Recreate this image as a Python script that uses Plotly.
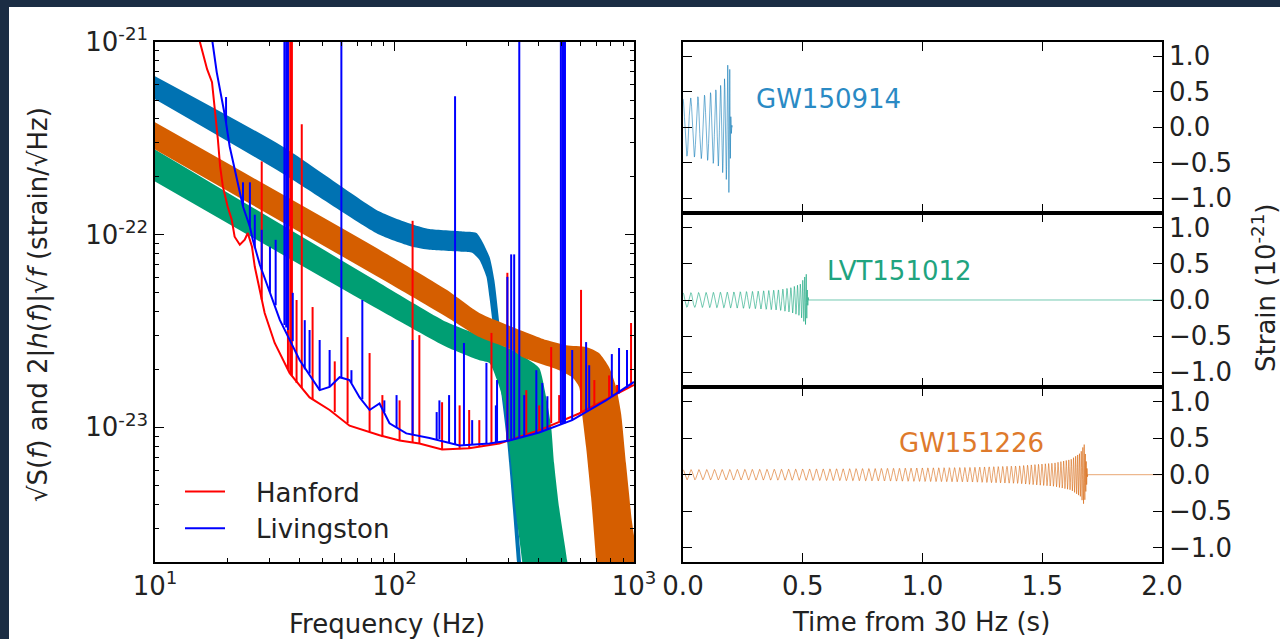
import numpy as np
import plotly.graph_objects as go

# ---------------- Left panel: detector noise (ASD) ----------------
hanford_freq = [15.1, 15.4, 16.5, 17.3, 18.3, 18.7, 19.2, 20.1, 20.9, 21.5, 22.6, 23.7, 24.4, 25.4,
                26.1, 27.4, 28.7, 31.6, 36.5, 44.2, 53.6, 64.9, 86.6, 105, 127, 158, 205, 274,
                402, 590, 787, 1000]
hanford_asd = [1.17e-21, 1.0e-21, 7.23e-22, 6.19e-22, 3.13e-22, 2.26e-22, 1.78e-22, 1.40e-22,
               1.20e-22, 9.76e-23, 8.87e-23, 9.42e-23, 1.02e-22, 8.66e-23, 6.81e-23, 5.17e-23,
               3.92e-23, 2.74e-23, 1.91e-23, 1.43e-23, 1.23e-23, 1.02e-23, 9.1e-24, 8.55e-24,
               8.25e-24, 7.68e-24, 7.78e-24, 8.25e-24, 9.65e-24, 1.18e-23, 1.42e-23, 1.66e-23]
hanford_line_freq = [27.9, 35.9, 36.7, 37.3, 39.0, 41.0, 45.5, 56.3, 63.7, 78.7, 89.0, 105,
                     119, 127, 158, 187, 205, 226, 254, 296, 355, 402, 451, 487, 601, 683, 787,
                     850, 972]
hanford_line_base = [4.6e-23, 2.0e-23, 1.9e-23, 1.85e-23, 1.7e-23, 1.6e-23, 1.4e-23, 1.2e-23,
                     1.05e-23, 9.5e-24, 8.9e-24, 8.55e-24, 8.3e-24, 8.25e-24, 7.7e-24, 7.7e-24,
                     7.78e-24, 7.9e-24, 8.2e-24, 8.6e-24, 9.3e-24, 9.65e-24, 1.05e-23, 1.08e-23,
                     1.19e-23, 1.3e-23, 1.42e-23, 1.5e-23, 1.63e-23]
hanford_line_peak = [2.4e-22, 2.5e-21, 2.5e-21, 2.5e-21, 4.58e-23, 3.74e-22, 4.21e-23, 2.2e-23,
                     2.94e-23, 2.43e-23, 1.47e-23, 1.38e-23, 1.18e-22, 3.01e-23, 1.35e-23,
                     1.3e-23, 1.23e-23, 1.09e-23, 3.09e-23, 6.34e-23, 1.56e-23, 1.3e-23,
                     2.61e-23, 1.47e-23, 5.17e-23, 1.76e-23, 1.86e-23, 1.66e-23, 3.48e-23]

livingston_freq = [16.9, 17.3, 18.1, 19.0, 19.6, 20.5, 21.1, 22.2, 23.3, 24.9, 25.6, 27.4, 29.3,
                   33.2, 40.2, 48.7, 53.6, 59.0, 64.9, 71.5, 78.7, 86.6, 95.3, 112, 140, 187,
                   249, 302, 402, 552, 764, 1000]
livingston_asd = [1.17e-21, 1.04e-21, 6.98e-22, 5.05e-22, 4.12e-22, 2.87e-22, 2.46e-22, 1.87e-22,
                  1.40e-22, 1.10e-22, 9.42e-23, 6.98e-23, 5.5e-23, 3.61e-23, 2.23e-23, 1.56e-23,
                  1.62e-23, 1.82e-23, 1.76e-23, 1.43e-23, 1.23e-23, 1.33e-23, 1.05e-23, 9.3e-24,
                  8.8e-24, 8.05e-24, 8.25e-24, 8.55e-24, 9.4e-24, 1.09e-23, 1.38e-23, 1.72e-23]
livingston_line_freq = [19.8, 23.3, 24.9, 26.1, 27.9, 30.2, 31.9, 34.7, 35.3, 35.9, 37.6, 42.2,
                        44.2, 48.7, 53.6, 60.0, 66.1, 73.4, 90.7, 102, 119, 150, 154, 169, 179,
                        195, 211, 242, 265, 268, 296, 307, 316, 331.9, 348, 391, 414, 435, 495,
                        503, 510, 515, 552, 631, 650, 808, 866, 935]
livingston_line_base = [3.8e-22, 1.4e-22, 1.1e-22, 8.5e-23, 6.6e-23, 5.0e-23, 4.3e-23, 3.4e-23,
                        3.3e-23, 3.2e-23, 2.8e-23, 2.0e-23, 1.9e-23, 1.56e-23, 1.62e-23, 1.8e-23,
                        1.7e-23, 1.4e-23, 1.2e-23, 1.0e-23, 9.1e-24, 8.6e-24, 8.7e-24, 8.3e-24,
                        8.1e-24, 8.05e-24, 8.1e-24, 8.2e-24, 8.3e-24, 8.4e-24, 8.5e-24, 8.55e-24,
                        8.6e-24, 8.8e-24, 9.0e-24, 9.3e-24, 9.5e-24, 9.8e-24, 1.03e-23, 1.04e-23,
                        1.05e-23, 1.05e-23, 1.09e-23, 1.22e-23, 1.25e-23, 1.45e-23, 1.5e-23,
                        1.6e-23]
livingston_line_peak = [5.18e-22, 1.87e-22, 1.87e-22, 1.27e-22, 1.06e-22, 8.66e-23, 9.4e-23,
                        2.5e-21, 2.5e-21, 2.5e-21, 4.99e-23, 3.6e-23, 3.2e-23, 2.84e-23,
                        2.52e-23, 2.5e-21, 1.98e-23, 4.58e-23, 1.38e-23, 1.47e-23, 2.84e-23,
                        1.2e-23, 1.38e-23, 1.47e-23, 5.23e-22, 2.74e-23, 1.09e-23, 2.16e-23,
                        1.3e-23, 1.76e-23, 6.04e-23, 7.9e-23, 7.9e-23, 2.5e-21, 1.47e-23,
                        1.98e-23, 1.70e-23, 1.45e-23, 2.5e-21, 2.5e-21, 2.5e-21, 2.5e-21,
                        2.52e-23, 2.77e-23, 2.1e-23, 2.4e-23, 2.58e-23, 2.52e-23]

# ---------------- Left panel: signal bands 2|h(f)|sqrt(f) ----------------
gw150914_up_freq = [10, 34.1, 86.6, 119, 140, 192, 220, 249, 261, 274, 307, 338, 345]
gw150914_up = [6.65e-22, 2.87e-22, 1.32e-22, 1.13e-22, 1.07e-22, 1.04e-22, 1.02e-22, 7.7e-23,
               5.83e-23, 3.48e-23, 8.25e-24, 1.98e-24, 1.42e-24]
gw150914_lo_freq = [10, 34.1, 86.6, 119, 140, 192, 211, 226, 242, 249, 256, 296, 325, 332]
gw150914_lo = [5.05e-22, 2.08e-22, 1.0e-22, 8.66e-23, 8.35e-23, 8.15e-23, 8.05e-23, 7.41e-23,
               6.04e-23, 4.75e-23, 3.61e-23, 8.25e-24, 1.98e-24, 1.42e-24]

lvt151012_up_freq = [10, 86.6, 165, 226, 310, 365, 402, 430, 451, 464, 487, 526, 546]
lvt151012_up = [2.77e-22, 5.62e-23, 3.52e-23, 3.01e-23, 2.52e-23, 2.23e-23, 2.03e-23, 1.43e-23,
                1.0e-23, 6.5e-24, 3.83e-24, 2.03e-24, 1.26e-24]
lvt151012_lo_freq = [10, 86.6, 165, 226, 249, 268, 287, 296, 307, 322, 341, 348]
lvt151012_lo = [1.89e-22, 4.06e-23, 2.61e-23, 2.23e-23, 2.16e-23, 1.76e-23, 1.33e-23, 9.65e-24,
                6.5e-24, 3.56e-24, 2.03e-24, 1.42e-24]

gw151226_up_freq = [10, 86.6, 165, 226, 310, 430, 521, 631, 714, 787, 842, 883, 926, 972, 1010]
gw151226_up = [3.83e-22, 8.35e-23, 5.17e-23, 3.92e-23, 3.32e-23, 2.84e-23, 2.67e-23, 2.61e-23,
               2.43e-23, 2.05e-23, 1.62e-23, 1.18e-23, 6.5e-24, 3.56e-24, 1.8e-24]
gw151226_lo_freq = [10, 86.6, 165, 226, 310, 341, 487, 552, 590, 607, 631, 662, 695, 708]
gw151226_lo = [2.77e-22, 5.97e-23, 3.74e-23, 2.94e-23, 2.52e-23, 2.32e-23, 1.98e-23, 1.82e-23,
               1.62e-23, 1.18e-23, 7.87e-24, 4.32e-24, 2.03e-24, 1.42e-24]

# ---------------- Right panels: waveform tracks (time, frequency, amplitude) ----------------
gw150914_t = [0.0, 0.05, 0.10, 0.15, 0.18, 0.19, 0.195, 0.200, 0.205]
gw150914_f = [30, 33.4, 38.9, 50.5, 71, 100, 150, 250, 250]
gw150914_a = [0.40, 0.42, 0.46, 0.55, 0.72, 0.95, 0.85, 0.15, 0.0]

lvt151012_t = [0.0, 0.10, 0.20, 0.30, 0.40, 0.45, 0.49, 0.505, 0.515, 0.52, 0.525, 2.0]
lvt151012_f = [30, 32.5, 36, 41.4, 52, 63.6, 87.6, 120, 180, 250, 250, 250]
lvt151012_a = [0.10, 0.105, 0.11, 0.12, 0.14, 0.17, 0.22, 0.30, 0.36, 0.10, 0.0, 0.0]

gw151226_t = [0.0, 0.4, 0.8, 1.2, 1.4, 1.55, 1.62, 1.66, 1.675, 1.685, 1.69, 2.0]
gw151226_f = [30, 33.2, 38.2, 47.7, 58, 76.4, 99, 136, 177, 300, 300, 300]
gw151226_a = [0.07, 0.075, 0.085, 0.10, 0.12, 0.16, 0.21, 0.30, 0.42, 0.15, 0.0, 0.0]

event_names = ["GW150914", "LVT151012", "GW151226"]

C_BLUE = "rgb(0,114,178)"
C_GREEN = "rgb(0,158,115)"
C_ORANGE = "rgb(213,94,0)"
FONT = "DejaVu Sans"
FS = 26
W, H = 1280, 639


def band(fu, vu, fl, vl, color):
    return go.Scatter(x=list(fu) + list(fl)[::-1], y=list(vu) + list(vl)[::-1],
                      fill="toself", fillcolor=color, mode="lines",
                      line=dict(width=0, color=color, shape="spline", smoothing=0.6),
                      showlegend=False, hoverinfo="skip", xaxis="x", yaxis="y")


def spikes(f, b, p):
    xs, ys = [], []
    for fi, bi, pi in zip(f, b, p):
        xs += [fi, fi, None]
        ys += [bi, pi, None]
    return xs, ys


def waveform(tk, fk, ak, dt=0.0002):
    t = np.arange(0.0, tk[-1] + dt / 2, dt)
    f = np.interp(t, tk, fk)
    a = np.interp(t, tk, ak)
    phase = 2 * np.pi * np.cumsum(f) * dt
    return t, a * np.cos(phase)


fig = go.Figure()

fig.add_trace(band(gw150914_up_freq, gw150914_up, gw150914_lo_freq, gw150914_lo, C_BLUE))
fig.add_trace(band(lvt151012_up_freq, lvt151012_up, lvt151012_lo_freq, lvt151012_lo, C_GREEN))
fig.add_trace(band(gw151226_up_freq, gw151226_up, gw151226_lo_freq, gw151226_lo, C_ORANGE))

fig.add_trace(go.Scatter(x=hanford_freq, y=hanford_asd, mode="lines", name="\u2003Hanford",
                         legendgroup="H", line=dict(color="#ff0000", width=2),
                         xaxis="x", yaxis="y"))
hx, hy = spikes(hanford_line_freq, hanford_line_base, hanford_line_peak)
fig.add_trace(go.Scatter(x=hx, y=hy, mode="lines", legendgroup="H", showlegend=False,
                         line=dict(color="#ff0000", width=2), xaxis="x", yaxis="y"))
fig.add_trace(go.Scatter(x=livingston_freq, y=livingston_asd, mode="lines",
                         name="\u2003Livingston", legendgroup="L",
                         line=dict(color="#0000ff", width=2), xaxis="x", yaxis="y"))
lx, ly = spikes(livingston_line_freq, livingston_line_base, livingston_line_peak)
fig.add_trace(go.Scatter(x=lx, y=ly, mode="lines", legendgroup="L", showlegend=False,
                         line=dict(color="#0000ff", width=2), xaxis="x", yaxis="y"))

wave_specs = [
    (gw150914_t, gw150914_f, gw150914_a, "rgba(0,114,178,0.55)", "x2", "y2"),
    (lvt151012_t, lvt151012_f, lvt151012_a, "rgba(0,158,115,0.55)", "x3", "y3"),
    (gw151226_t, gw151226_f, gw151226_a, "rgba(213,94,0,0.55)", "x4", "y4"),
]
for tk, fk, ak, col, xa, ya in wave_specs:
    t, h = waveform(tk, fk, ak)
    fig.add_trace(go.Scatter(x=t, y=h, mode="lines", line=dict(color=col, width=1),
                             showlegend=False, xaxis=xa, yaxis=ya, hoverinfo="skip"))

# ---------------- Layout ----------------
def px_x(x):
    return x / W


def px_y(y):
    return 1 - y / H


LW = 1.5
GAP = 0.4
left_dom_x = [px_x(155), px_x(634)]
left_dom_y = [px_y(562), px_y(42)]
right_dom_x = [px_x(683), px_x(1162)]
# (top, bottom) pixel rows of the three stacked panels
panel_rows = [(42, 213 - GAP), (213 + GAP, 387 - GAP), (387 + GAP, 562)]

axis_common = dict(showline=True, linecolor="black", linewidth=LW, mirror="ticks",
                   ticks="inside", tickcolor="black", showgrid=False, zeroline=False,
                   tickfont=dict(family=FONT, size=FS, color="#222"))

minor_x = [k * 10 ** e for e in (1, 2) for k in range(2, 10)]
minor_y = [k * 10 ** e for e in (-24, -23, -22) for k in range(2, 10)]

fig.update_layout(
    width=W, height=H, margin=dict(l=0, r=0, t=0, b=0, autoexpand=False),
    paper_bgcolor="white", plot_bgcolor="white",
    font=dict(family=FONT, size=FS, color="#222"),
    xaxis=dict(axis_common, type="log", range=[1, 3], domain=left_dom_x, anchor="y",
               tickmode="array", tickvals=[10, 100, 1000],
               ticktext=["10<sup>1</sup>", "10<sup>2</sup>", "10<sup>3</sup>"], ticklen=9,
               minor=dict(tickmode="array", tickvals=minor_x, ticks="inside", ticklen=4,
                          tickcolor="black", showgrid=False)),
    yaxis=dict(axis_common, type="log", range=[np.log10(2e-24), -21], domain=left_dom_y,
               anchor="x", tickmode="array", tickvals=[1e-23, 1e-22, 1e-21],
               ticktext=["10<sup>-23</sup>", "10<sup>-22</sup>", "10<sup>-21</sup>"], ticklen=9,
               minor=dict(tickmode="array", tickvals=minor_y, ticks="inside", ticklen=4,
                          tickcolor="black", showgrid=False)),
    legend=dict(x=px_x(180), y=px_y(468), xanchor="left", yanchor="top",
                bgcolor="rgba(0,0,0,0)", font=dict(family=FONT, size=FS, color="#222"),
                itemwidth=40, tracegroupgap=0),
)

for i, name in enumerate(["2", "3", "4"]):
    top, bot = panel_rows[i]
    fig.update_layout(**{
        f"xaxis{name}": dict(axis_common, range=[0, 2], domain=right_dom_x, anchor=f"y{name}",
                             tickmode="array", tickvals=[0, 0.5, 1.0, 1.5, 2.0],
                             tickformat=".1f", ticklen=9,
                             showticklabels=(name == "4"), matches="x4" if name != "4" else None),
        f"yaxis{name}": dict(axis_common, range=[-1.2, 1.2], domain=[px_y(bot), px_y(top)],
                             anchor=f"x{name}", side="right", tickmode="array",
                             tickvals=[-1, -0.5, 0, 0.5, 1], tickformat=".1f", ticklen=9),
    })

annotations = [
    dict(text="Frequency (Hz)", x=px_x(387), y=px_y(624), showarrow=False,
         font=dict(size=FS), xanchor="center", yanchor="middle"),
    dict(text="Time from 30 Hz (s)", x=px_x(921), y=px_y(622), showarrow=False,
         font=dict(size=FS), xanchor="center", yanchor="middle"),
    dict(text="√S(<i>f</i>) and 2|<i>h</i>(<i>f</i>)|√<i>f</i> (strain/√Hz)",
         x=px_x(38), y=px_y(305), textangle=-90, showarrow=False, font=dict(size=FS),
         xanchor="center", yanchor="middle"),
    dict(text="Strain (10<sup>-21</sup>)", x=px_x(1264), y=px_y(288), textangle=-90,
         showarrow=False, font=dict(size=FS), xanchor="center", yanchor="middle"),
    dict(text=event_names[0], x=px_x(754), y=px_y(99), showarrow=False, xanchor="left",
         yanchor="middle", font=dict(size=FS, color="#2a8ac4")),
    dict(text=event_names[1], x=px_x(825), y=px_y(271), showarrow=False, xanchor="left",
         yanchor="middle", font=dict(size=FS, color="#1fa47f")),
    dict(text=event_names[2], x=px_x(897), y=px_y(443), showarrow=False, xanchor="left",
         yanchor="middle", font=dict(size=FS, color="#de7a2c")),
]
for a in annotations:
    a.update(xref="paper", yref="paper")
fig.update_layout(annotations=annotations)

fig.update_layout(shapes=[
    dict(type="rect", xref="paper", yref="paper", x0=0, x1=1, y0=px_y(7), y1=1,
         fillcolor="#1b2d44", line=dict(width=0), layer="above"),
    dict(type="rect", xref="paper", yref="paper", x0=0, x1=px_x(9), y0=0, y1=1,
         fillcolor="#1b2d44", line=dict(width=0), layer="above"),
])

fig.write_html("out.html")
